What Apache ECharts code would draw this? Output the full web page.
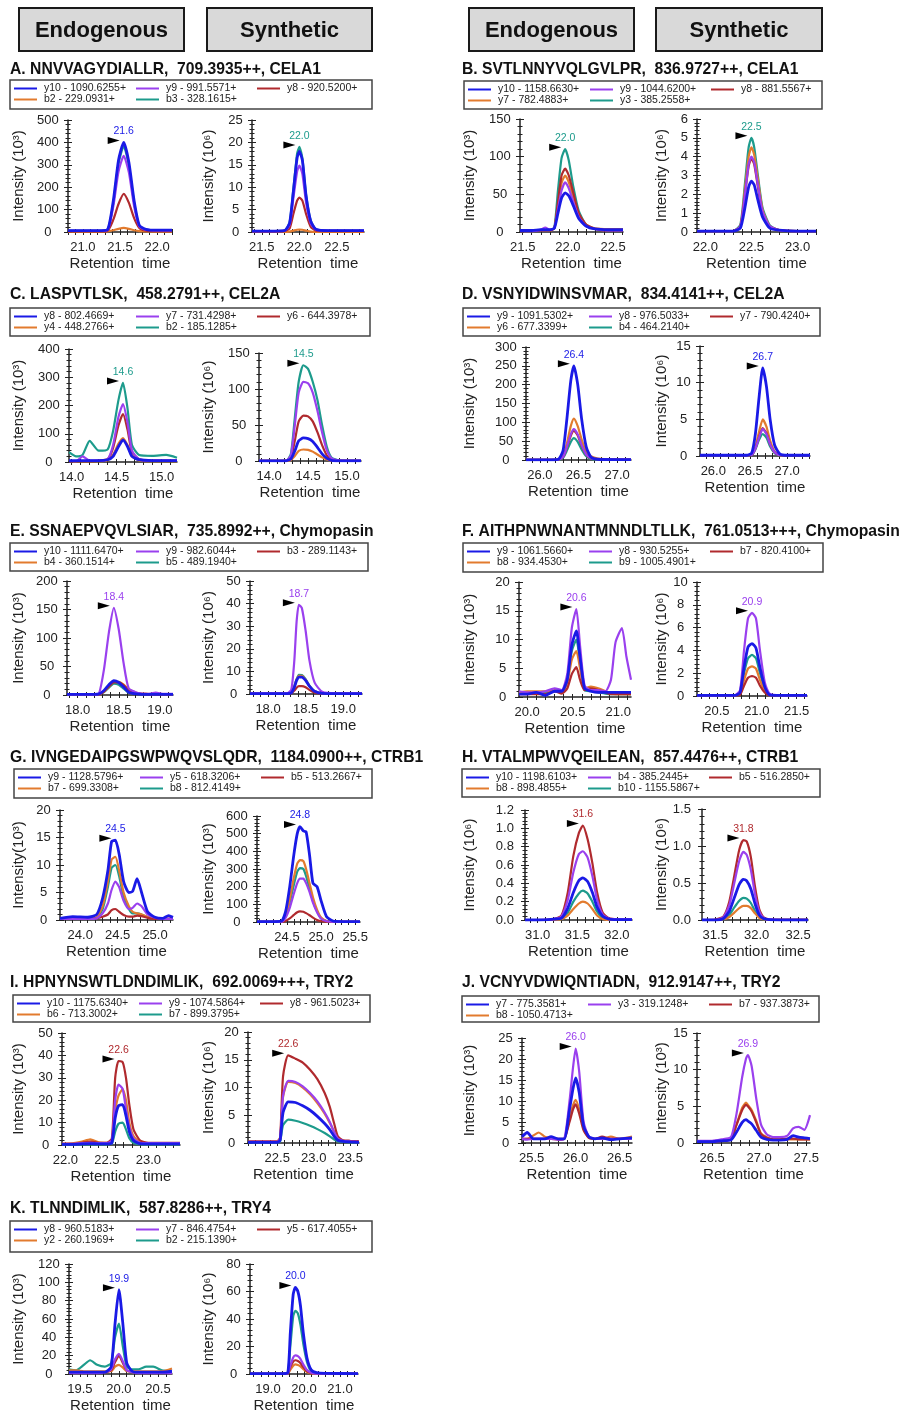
<!DOCTYPE html>
<html><head><meta charset="utf-8">
<script src="https://cdn.jsdelivr.net/npm/echarts@6/dist/echarts.min.js"></script>
<style>html,body{margin:0;padding:0;background:#fff}#c{width:906px;height:1416px}</style>
</head><body><div id="c"></div>
<script>
const colors = ['#1a1ae6','#9a40ee','#b02a2e','#e27b2e','#1d9b8c'];
const widths = [2.8, 2.2, 2.2, 2.2, 2.2];
const headerTexts = ['Endogenous','Synthetic','Endogenous','Synthetic'];

// ---------- A ----------
const A_title = 'A. NNVVAGYDIALLR,  709.3935++, CELA1';
const A_ions = ['y10 - 1090.6255+','y9 - 991.5571+','y8 - 920.5200+','b2 - 229.0931+','b3 - 328.1615+'];
const A_e_x = [20.8,21.0,21.2,21.33,21.41,21.48,21.55,21.62,21.69,21.76,21.85,22.0,22.2];
const A_e_y = [
 [6,6,6,10,140,320,400,310,140,30,12,8,8],
 [5,5,5,8,115,270,340,265,115,25,10,7,7],
 [3,3,3,5,55,125,170,130,62,18,6,4,4],
 [2,2,2,3,8,14,18,14,8,4,3,2,2],
 [5,5,5,9,130,305,385,295,130,28,10,7,7]];
const A_e_xr = [20.8,22.2], A_e_xl = [21.0,21.5,22.0], A_e_ya = [500,100], A_e_yn = 'Intensity (10³)', A_e_pk = ['21.6',0];
const A_s_x = [21.37,21.6,21.8,21.87,21.92,21.97,22.0,22.04,22.09,22.15,22.22,22.4,22.86];
const A_s_y = [
 [0.2,0.2,0.3,2,9,16.5,18,16,8,2.5,0.6,0.3,0.3],
 [0.2,0.2,0.3,1.6,7.5,13.5,14.8,13,6.5,2,0.5,0.3,0.3],
 [0.1,0.1,0.2,0.8,4,7,7.7,7,4,1.2,0.3,0.2,0.2],
 [0.05,0.05,0.05,0.1,0.3,0.5,0.55,0.5,0.3,0.1,0.05,0.05,0.05],
 [0.2,0.2,0.3,2.1,9.5,17.5,19,16.5,8.2,2.6,0.6,0.3,0.3]];
const A_s_xr = [21.37,22.86], A_s_xl = [21.5,22.0,22.5], A_s_ya = [25,5], A_s_yn = 'Intensity (10⁶)', A_s_pk = ['22.0',4];

// ---------- B ----------
const B_title = 'B. SVTLNNYVQLGVLPR,  836.9727++, CELA1';
const B_ions = ['y10 - 1158.6630+','y9 - 1044.6200+','y8 - 881.5567+','y7 - 782.4883+','y3 - 385.2558+'];
const B_e_x = [21.47,21.6,21.7,21.75,21.8,21.85,21.89,21.93,21.97,22.01,22.06,22.12,22.2,22.3,22.45,22.61];
const B_e_y = [
 [2,2,3,3,3,5,25,45,52,48,35,18,8,4,3,3],
 [1,1,3,6,3,5,30,55,66,58,40,20,8,4,2,2],
 [1,1,2,2,2,5,40,75,84,75,52,25,10,4,2,2],
 [2,2,2,2,2,5,35,65,75,66,46,24,10,5,4,4],
 [1,1,2,2,2,6,55,98,110,95,60,28,10,4,3,3]];
const B_e_xr = [21.47,22.61], B_e_xl = [21.5,22.0,22.5], B_e_ya = [150,50], B_e_yn = 'Intensity (10³)', B_e_pk = ['22.0',4];
const B_s_x = [21.91,22.1,22.3,22.38,22.43,22.47,22.5,22.53,22.57,22.62,22.7,22.8,23.0,23.2];
const B_s_y = [
 [0.05,0.05,0.05,0.2,1.3,2.4,2.7,2.5,1.7,0.8,0.2,0.1,0.05,0.05],
 [0.05,0.05,0.05,0.3,2.0,3.6,4.0,3.7,2.5,1.1,0.3,0.1,0.05,0.05],
 [0.05,0.05,0.05,0.3,2.0,3.5,3.9,3.6,2.4,1.0,0.3,0.1,0.05,0.05],
 [0.05,0.05,0.05,0.3,2.3,4.0,4.5,4.1,2.8,1.2,0.3,0.1,0.05,0.05],
 [0.05,0.05,0.05,0.4,2.6,4.5,5.0,4.5,3.0,1.3,0.35,0.1,0.05,0.05]];
const B_s_xr = [21.91,23.2], B_s_xl = [22.0,22.5,23.0], B_s_ya = [6,1], B_s_yn = 'Intensity (10⁶)', B_s_pk = ['22.5',4];

// ---------- C ----------
const C_title = 'C. LASPVTLSK,  458.2791++, CEL2A';
const C_ions = ['y8 - 802.4669+','y7 - 731.4298+','y6 - 644.3978+','y4 - 448.2766+','b2 - 185.1285+'];
const C_e_x = [13.97,14.05,14.12,14.2,14.3,14.4,14.46,14.52,14.57,14.62,14.67,14.75,14.9,15.05,15.17];
const C_e_y = [
 [5,5,5,5,5,8,20,55,78,55,20,8,5,5,5],
 [3,3,20,5,5,10,60,160,205,140,40,10,5,5,5],
 [3,3,3,3,5,10,50,130,170,115,35,10,5,5,5],
 [3,3,3,3,3,6,25,65,85,60,20,6,3,3,3],
 [35,20,25,75,40,45,110,220,280,190,60,25,22,25,15]];
const C_e_xr = [13.97,15.17], C_e_xl = [14.0,14.5,15.0], C_e_ya = [400,100], C_e_yn = 'Intensity (10³)', C_e_pk = ['14.6',4];
const C_s_x = [13.87,14.1,14.22,14.28,14.33,14.38,14.44,14.5,14.56,14.62,14.68,14.74,14.8,14.9,15.18];
const C_s_y = [
 [0.2,0.2,0.3,3,14,28,32,31,27,19,10,4,1,0.3,0.2],
 [0.3,0.3,0.5,8,50,95,110,108,95,70,40,15,4,1,0.5],
 [0.2,0.2,0.3,5,28,55,63,62,55,40,22,8,2,0.5,0.3],
 [0.1,0.1,0.2,1.5,7,14,16,15.5,13,9,5,2,0.5,0.2,0.1],
 [0.3,0.3,0.5,10,60,110,133,128,110,85,50,20,5,1,0.5]];
const C_s_xr = [13.87,15.18], C_s_xl = [14.0,14.5,15.0], C_s_ya = [150,50], C_s_yn = 'Intensity (10⁶)', C_s_pk = ['14.5',4];

// ---------- D ----------
const D_title = 'D. VSNYIDWINSVMAR,  834.4141++, CEL2A';
const D_ions = ['y9 - 1091.5302+','y8 - 976.5033+','y7 - 790.4240+','y6 - 677.3399+','b4 - 464.2140+'];
const D_e_x = [25.82,26.0,26.15,26.24,26.3,26.35,26.4,26.44,26.49,26.54,26.6,26.66,26.75,27.0,27.18];
const D_e_y = [
 [0.5,0.5,0.5,2,25,110,210,250,200,110,35,8,2,1,1],
 [0.5,0.5,0.5,1,8,35,68,82,68,40,14,5,2,1,1],
 [0.5,0.5,0.5,1,8,33,64,78,65,38,14,5,2,1,1],
 [0.5,0.5,0.5,1,10,45,90,110,90,55,22,10,4,1,1],
 [0.5,0.5,0.5,1,6,25,48,58,48,28,10,3,1,1,1]];
const D_e_xr = [25.82,27.18], D_e_xl = [26.0,26.5,27.0], D_e_ya = [300,50], D_e_yn = 'Intensity (10³)', D_e_pk = ['26.4',0];
const D_s_x = [25.82,26.2,26.45,26.52,26.57,26.62,26.67,26.72,26.77,26.83,26.9,27.0,27.31];
const D_s_y = [
 [0.1,0.1,0.1,0.4,3,8,12,9.5,5,1.5,0.3,0.1,0.1],
 [0.1,0.1,0.1,0.15,1,2.5,3.7,3,1.6,0.5,0.1,0.1,0.1],
 [0.1,0.1,0.1,0.15,1,2.6,3.8,3.1,1.6,0.5,0.1,0.1,0.1],
 [0.1,0.1,0.1,0.2,1.3,3.3,5,4,2.1,0.6,0.1,0.1,0.1],
 [0.1,0.1,0.1,0.1,0.9,2.2,3.0,2.5,1.3,0.4,0.1,0.1,0.1]];
const D_s_xr = [25.82,27.31], D_s_xl = [26.0,26.5,27.0], D_s_ya = [15,5], D_s_yn = 'Intensity (10⁶)', D_s_pk = ['26.7',0];

// ---------- E ----------
const E_title = 'E. SSNAEPVQVLSIAR,  735.8992++, Chymopasin';
const E_ions = ['y10 - 1111.6470+','y9 - 982.6044+','b3 - 289.1143+','b4 - 360.1514+','b5 - 489.1940+'];
const E_e_x = [17.87,18.0,18.2,18.26,18.32,18.38,18.44,18.5,18.56,18.62,18.72,18.85,18.95,19.05,19.16];
const E_e_y = [
 [1,1,1,2,8,18,25,22,14,5,2,1,1,1,1],
 [1,1,1,3,45,110,153,115,55,12,4,2,4,2,2],
 [1,1,1,1,6,15,22,22,17,9,3,1,1,1,1],
 [1,1,1,1,6,15,23,23,18,10,4,2,1,1,1],
 [1,1,1,1,5,13,20,18,11,4,2,1,1,1,1]];
const E_e_xr = [17.87,19.16], E_e_xl = [18.0,18.5,19.0], E_e_ya = [200,50], E_e_yn = 'Intensity (10³)', E_e_pk = ['18.4',1];
const E_s_x = [17.76,18.0,18.25,18.31,18.35,18.38,18.41,18.45,18.5,18.55,18.62,18.72,18.9,19.25];
const E_s_y = [
 [0.2,0.2,0.2,0.5,3,6,7.5,7.5,6,3.5,1.2,0.3,0.2,0.2],
 [0.3,0.3,0.3,2,15,32,39.5,38,28,15,5,1,0.3,0.3],
 [0.1,0.1,0.1,0.3,1.5,2.8,3.5,3.5,3,1.8,0.6,0.2,0.1,0.1],
 [0.2,0.2,0.2,0.5,3.2,6.3,8,8,6.3,3.6,1.2,0.3,0.2,0.2],
 [0.2,0.2,0.2,0.5,3.4,6.6,8.5,8.4,6.6,3.7,1.2,0.3,0.2,0.2]];
const E_s_xr = [17.76,19.25], E_s_xl = [18.0,18.5,19.0], E_s_ya = [50,10], E_s_yn = 'Intensity (10⁶)', E_s_pk = ['18.7',1];

// ---------- F ----------
const F_title = 'F. AITHPNWNANTMNNDLTLLK,  761.0513+++, Chymopasin';
const F_ions = ['y9 - 1061.5660+','y8 - 930.5255+','b7 - 820.4100+','b8 - 934.4530+','b9 - 1005.4901+'];
const F_e_x = [19.91,20.0,20.1,20.2,20.3,20.38,20.44,20.49,20.54,20.58,20.63,20.7,20.78,20.86,20.92,20.97,21.04,21.09,21.14];
const F_e_y = [
 [0.5,0.5,0.8,0.3,1,1,3,9,11.5,7,1.5,1,0.8,0.8,0.8,0.8,0.8,0.8,0.8],
 [1,0.8,0.8,1,1.5,1.2,4,12,15.3,9,2,1.2,1.2,1,3,9.5,12,7,3],
 [0.5,0.5,0.5,0.5,1,0.6,1.5,4,5.2,3,1.2,1.5,1.2,0.8,0.5,0.5,0.5,0.5,0.5],
 [0.8,1,1,1,1.2,0.8,2.5,6.5,8,5,1.5,1.8,1.5,1,0.6,0.5,0.5,0.5,0.5],
 [0.8,0.8,0.6,0.8,1,0.8,3,8,10,6,1.2,1,0.8,0.6,0.5,0.5,0.5,0.5,0.5]];
const F_e_xr = [19.91,21.14], F_e_xl = [20.0,20.5,21.0], F_e_ya = [20,5], F_e_yn = 'Intensity (10³)', F_e_pk = ['20.6',1];
const F_s_x = [20.25,20.5,20.72,20.79,20.84,20.89,20.94,20.99,21.04,21.1,21.16,21.3,21.63];
const F_s_y = [
 [0.05,0.05,0.05,0.3,2.5,4.3,4.6,4.2,2.5,0.8,0.1,0.05,0.05],
 [0.05,0.05,0.05,0.5,4,6.8,7.3,6.8,4,1.2,0.2,0.05,0.05],
 [0.05,0.05,0.05,0.1,0.9,1.6,1.75,1.6,0.9,0.3,0.05,0.05,0.05],
 [0.05,0.05,0.05,0.2,1.4,2.4,2.6,2.4,1.4,0.45,0.05,0.05,0.05],
 [0.05,0.05,0.05,0.25,2,3.3,3.6,3.3,2,0.6,0.05,0.05,0.05]];
const F_s_xr = [20.25,21.63], F_s_xl = [20.5,21.0,21.5], F_s_ya = [10,2], F_s_yn = 'Intensity (10⁶)', F_s_pk = ['20.9',1];

// ---------- G ----------
const G_title = 'G. IVNGEDAIPGSWPWQVSLQDR,  1184.0900++, CTRB1';
const G_ions = ['y9 - 1128.5796+','y5 - 618.3206+','b5 - 513.2667+','b7 - 699.3308+','b8 - 812.4149+'];
const G_e_x = [23.73,23.9,24.1,24.22,24.3,24.37,24.42,24.47,24.52,24.58,24.65,24.7,24.76,24.82,24.9,25.0,25.1,25.18,25.24];
const G_e_y = [
 [0.3,0.6,0.5,1,4,9,14.3,14.5,12,7,5,5.2,7.5,5,1.5,0.5,0.3,0.8,0.5],
 [0.2,0.2,0.2,0.3,1.2,3,5.5,7,6,3.5,2,2.2,3,2.5,1,0.4,0.2,0.2,0.2],
 [0.2,0.3,0.2,0.3,0.6,1,1.8,2,1.5,0.9,0.6,0.6,0.8,0.7,0.4,0.2,0.2,0.2,0.2],
 [0.2,0.3,0.3,0.5,2.5,7,11,11.5,9,5,2.5,1.5,1.2,1,0.6,0.3,0.2,0.2,0.2],
 [0.2,0.2,0.2,0.4,2,6,9.5,10,8,4.2,2,1.2,1.2,1,0.5,0.3,0.2,0.2,0.2]];
const G_e_xr = [23.73,25.24], G_e_xl = [24.0,24.5,25.0], G_e_ya = [20,5], G_e_yn = 'Intensity(10³)', G_e_pk = ['24.5',0];
const G_s_x = [24.06,24.3,24.42,24.48,24.54,24.6,24.65,24.69,24.74,24.78,24.83,24.88,24.94,25.0,25.08,25.2,25.57];
const G_s_y = [
 [2,2,5,60,200,380,500,540,515,510,380,220,200,120,30,3,2],
 [1,1,2,25,80,160,220,245,245,220,170,110,55,18,4,1,1],
 [0.5,0.5,1,6,20,40,55,60,58,50,38,25,12,4,1,0.5,0.5],
 [1,1,3,40,130,250,330,350,345,300,220,140,70,25,6,1,1],
 [1,1,3,35,110,210,285,305,300,260,190,120,60,20,5,1,1]];
const G_s_xr = [24.06,25.57], G_s_xl = [24.5,25.0,25.5], G_s_ya = [600,100], G_s_yn = 'Intensity (10³)', G_s_pk = ['24.8',0];

// ---------- H ----------
const H_title = 'H. VTALMPWVQEILEAN,  857.4476++, CTRB1';
const H_ions = ['y10 - 1198.6103+','b4 - 385.2445+','b5 - 516.2850+','b8 - 898.4855+','b10 - 1155.5867+'];
const H_e_x = [30.84,31.0,31.2,31.3,31.38,31.45,31.52,31.57,31.63,31.69,31.75,31.82,31.9,32.0,32.19];
const H_e_y = [
 [0,0,0.01,0.02,0.13,0.3,0.43,0.46,0.42,0.3,0.14,0.04,0.01,0.005,0.005],
 [0,0,0.01,0.04,0.22,0.52,0.72,0.75,0.68,0.48,0.22,0.06,0.015,0.01,0.01],
 [0,0,0.01,0.05,0.3,0.7,0.95,1.03,0.88,0.62,0.3,0.08,0.02,0.01,0.01],
 [0,0,0,0.01,0.05,0.12,0.18,0.2,0.18,0.12,0.05,0.01,0,0,0],
 [0,0,0,0.01,0.08,0.2,0.29,0.32,0.29,0.2,0.09,0.02,0.005,0,0]];
const H_e_xr = [30.84,32.19], H_e_xl = [31.0,31.5,32.0], H_e_ya = [1.2,0.2], H_e_yn = 'Intensity (10⁶)', H_e_pk = ['31.6',2];
const H_s_x = [31.34,31.5,31.6,31.67,31.73,31.79,31.84,31.88,31.93,31.98,32.03,32.08,32.15,32.3,32.62];
const H_s_y = [
 [0,0,0.02,0.12,0.3,0.48,0.55,0.53,0.42,0.22,0.07,0.02,0.005,0,0],
 [0,0,0.04,0.2,0.5,0.8,0.92,0.88,0.68,0.35,0.12,0.03,0.01,0,0],
 [0,0.005,0.05,0.25,0.6,0.95,1.08,1.06,0.85,0.45,0.15,0.04,0.01,0.005,0.005],
 [0,0,0.01,0.04,0.1,0.16,0.19,0.19,0.16,0.09,0.03,0.01,0,0,0],
 [0,0,0.01,0.07,0.17,0.26,0.3,0.29,0.23,0.12,0.04,0.01,0,0,0]];
const H_s_xr = [31.34,32.62], H_s_xl = [31.5,32.0,32.5], H_s_ya = [1.5,0.5], H_s_yn = 'Intensity (10⁶)', H_s_pk = ['31.8',2];

// ---------- I ----------
const I_title = 'I. HPNYNSWTLDNDIMLIK,  692.0069+++, TRY2';
const I_ions = ['y10 - 1175.6340+','y9 - 1074.5864+','y8 - 961.5023+','b6 - 713.3002+','b7 - 899.3795+'];
const I_e_x = [21.96,22.1,22.2,22.3,22.4,22.5,22.56,22.6,22.64,22.69,22.73,22.77,22.82,22.9,23.0,23.2,23.38];
const I_e_y = [
 [0.3,0.3,0.5,0.6,0.5,0.5,1,12,17.5,18,13,6,2,0.6,0.5,0.5,0.5],
 [0.5,0.5,0.8,1,0.8,0.8,2,20,27,25,16,8,3,1,0.8,0.8,0.8],
 [0.5,0.5,1,1.5,1,1,3,30,37.5,37,30,18,7,2,1,1,1],
 [0.5,0.8,1.5,2.5,1.2,1,2,15,22,25,20,10,4,1.2,0.8,0.8,0.8],
 [0.2,0.2,0.3,0.3,0.3,0.3,0.6,6,9.5,10,7,3,1,0.3,0.3,0.3,0.3]];
const I_e_xr = [21.96,23.38], I_e_xl = [22.0,22.5,23.0], I_e_ya = [50,10], I_e_yn = 'Intensity (10³)', I_e_pk = ['22.6',2];
const I_s_x = [22.1,22.3,22.5,22.54,22.58,22.65,22.75,22.85,22.95,23.05,23.15,23.22,23.28,23.33,23.4,23.5,23.62];
const I_s_y = [
 [0.1,0.1,0.1,0.5,5.5,7.4,7.3,6.7,5.9,4.8,3.5,2.4,1.2,0.5,0.3,0.2,0.1],
 [0.2,0.2,0.2,0.8,8.5,11.2,11,10.2,9,7.5,5.5,3.8,2,0.8,0.4,0.3,0.2],
 [0.3,0.3,0.3,1,12,15.8,15.2,14.5,13.2,11.5,9,6.5,3.5,1.2,0.5,0.4,0.3],
 [0.2,0.2,0.2,0.8,8.3,11,10.8,10,8.8,7.2,5.3,3.6,2,0.8,0.4,0.3,0.2],
 [0.1,0.1,0.1,0.3,3.2,4.2,4,3.6,3.1,2.5,1.8,1.2,0.6,0.3,0.2,0.1,0.1]];
const I_s_xr = [22.1,23.62], I_s_xl = [22.5,23.0,23.5], I_s_ya = [20,5], I_s_yn = 'Intensity (10⁶)', I_s_pk = ['22.6',2];

// ---------- J ----------
const J_title = 'J. VCNYVDWIQNTIADN,  912.9147++, TRY2';
const J_ions = ['y7 - 775.3581+','y3 - 319.1248+','b7 - 937.3873+','b8 - 1050.4713+'];
const J_e_x = [25.39,25.45,25.52,25.58,25.65,25.72,25.8,25.87,25.93,25.97,26.0,26.04,26.09,26.15,26.22,26.3,26.4,26.5,26.64];
const J_e_y = [
 [1.5,2.5,1,1,1,1.5,1,1,8,13,15.5,12,4,1.5,1,1.2,0.8,1,1.2],
 [1,0.8,1,1,1,1,0.8,1,10,18,22.5,17,5,1.5,1,1,1,1,1],
 [1,1,1,1,1,1,0.8,1,5,8,9.2,7,3,1.2,1,1.5,1,1,1],
 [1,1,1.8,2.5,1.5,1.2,1,1,6,9,10.3,8,3.5,1.2,1,1,1.5,1,1.5]];
const J_e_xr = [25.39,26.64], J_e_xl = [25.5,26.0,26.5], J_e_ya = [25,5], J_e_yn = 'Intensity (10³)', J_e_pk = ['26.0',1];
const J_s_x = [26.34,26.5,26.6,26.7,26.76,26.82,26.86,26.88,26.92,26.97,27.02,27.08,27.15,27.22,27.3,27.36,27.42,27.48,27.54];
const J_s_y = [
 [0.2,0.2,0.3,0.4,1.5,2.8,3.2,3,2.6,1.7,0.8,0.5,0.4,0.4,0.5,1,0.8,0.7,0.6],
 [0.3,0.3,0.5,0.8,4,9,11.5,12,10.5,6,2.5,1.2,0.8,0.8,1,2,2.2,1.8,3.8],
 [0.2,0.2,0.3,0.5,2.5,4.5,5.2,5,4.3,2.8,1.2,0.7,0.5,0.5,0.6,0.6,0.5,0.5,0.5],
 [0.2,0.2,0.3,0.5,2.5,4.8,5.5,5.2,4.5,3,1.3,0.8,0.5,0.5,0.5,0.5,0.5,0.5,0.5]];
const J_s_xr = [26.34,27.54], J_s_xl = [26.5,27.0,27.5], J_s_ya = [15,5], J_s_yn = 'Intensity (10³)', J_s_pk = ['26.9',1];

// ---------- K ----------
const K_title = 'K. TLNNDIMLIK,  587.8286++, TRY4';
const K_ions = ['y8 - 960.5183+','y7 - 846.4754+','y5 - 617.4055+','y2 - 260.1969+','b2 - 215.1390+'];
const K_e_x = [19.36,19.45,19.55,19.63,19.72,19.82,19.9,19.95,20.0,20.05,20.1,20.17,20.25,20.35,20.44,20.55,20.68];
const K_e_y = [
 [2,2,2,2,2,2,8,55,92,55,12,3,2,2,2,2,3],
 [1,1,1,1,1,2,5,16,22,14,4,2,1,1,1,1,1],
 [2,2,2,2,2,2,4,13,20,12,4,2,2,2,2,2,2],
 [4,4,3,3,3,3,3,8,10,7,3,3,3,3,3,3,6],
 [5,4,10,15,10,8,12,40,55,30,8,5,5,8,8,4,3]];
const K_e_xr = [19.36,20.68], K_e_xl = [19.5,20.0,20.5], K_e_ya = [120,20], K_e_yn = 'Intensity (10³)', K_e_pk = ['19.9',0];
const K_s_x = [18.5,19.0,19.4,19.55,19.62,19.7,19.76,19.83,19.9,19.98,20.08,20.2,20.35,20.6,21.5];
const K_s_y = [
 [0.3,0.3,0.3,1,30,58,63,60,50,30,12,3,1,0.5,0.3],
 [0.2,0.2,0.2,0.5,6,12,13.5,13,11,7,3,1,0.3,0.2,0.2],
 [0.2,0.2,0.2,0.4,5,9,10,9.5,8,5,2,0.6,0.3,0.2,0.2],
 [0.2,0.2,0.2,0.3,3,6,7,6.5,5.5,3.5,1.5,0.4,0.2,0.2,0.2],
 [0.3,0.3,0.3,1,20,42,46,44,36,22,9,2,0.6,0.4,0.3]];
const K_s_xr = [18.5,21.5], K_s_xl = [19.0,20.0,21.0], K_s_ya = [80,20], K_s_yn = 'Intensity (10⁶)', K_s_pk = ['20.0',0];

// ---------- layout (positions only) ----------
const headerBoxes = [[19,8,165,43],[207,8,165,43],[469,8,165,43],[656,8,166,43]];
// [titleX, titleY, boxX, boxY, boxW, boxH]
const panelLayout = [
 [10,70,10,80,362,29],[462,70,464,81,358,28],
 [10,295,10,308,360,28],[462,295,463,308,357,28],
 [10,532,10,543,358,28],[462,532,463,543,360,29],
 [10,758,14,769,358,29],[462,758,462,769,358,28],
 [10,983,13,995,357,27],[462,983,462,996,357,26],
 [10,1209,10,1221,362,31]];
// [left, top, right, bottom] of each plot area
const gridBoxes = [
 [68,120,172,232],[252,120,364,232],[520,119,623,232],[697,119,816,232],
 [69,349,177,462],[259,353,361,461],[526,347,631,460],[700,346,810,456],
 [67,581,173,695],[250,581,362,694],[519,582,631,697],[697,582,807,696],
 [60,810,173,920],[257,816,360,922],[525,810,632,920],[702,809,808,920],
 [62,1033,180,1145],[248,1032,359,1143],[522,1038,632,1143],[697,1033,810,1143],
 [69,1264,172,1374],[250,1264,358,1374]];
const nameCX = [18,208,469,661];
const legColX = [4,126,247], legRowY = [9,20];

const panels = [
 [A_title, A_ions, [A_e_x,A_e_y,A_e_xr,A_e_xl,A_e_ya,A_e_yn,A_e_pk], [A_s_x,A_s_y,A_s_xr,A_s_xl,A_s_ya,A_s_yn,A_s_pk]],
 [B_title, B_ions, [B_e_x,B_e_y,B_e_xr,B_e_xl,B_e_ya,B_e_yn,B_e_pk], [B_s_x,B_s_y,B_s_xr,B_s_xl,B_s_ya,B_s_yn,B_s_pk]],
 [C_title, C_ions, [C_e_x,C_e_y,C_e_xr,C_e_xl,C_e_ya,C_e_yn,C_e_pk], [C_s_x,C_s_y,C_s_xr,C_s_xl,C_s_ya,C_s_yn,C_s_pk]],
 [D_title, D_ions, [D_e_x,D_e_y,D_e_xr,D_e_xl,D_e_ya,D_e_yn,D_e_pk], [D_s_x,D_s_y,D_s_xr,D_s_xl,D_s_ya,D_s_yn,D_s_pk]],
 [E_title, E_ions, [E_e_x,E_e_y,E_e_xr,E_e_xl,E_e_ya,E_e_yn,E_e_pk], [E_s_x,E_s_y,E_s_xr,E_s_xl,E_s_ya,E_s_yn,E_s_pk]],
 [F_title, F_ions, [F_e_x,F_e_y,F_e_xr,F_e_xl,F_e_ya,F_e_yn,F_e_pk], [F_s_x,F_s_y,F_s_xr,F_s_xl,F_s_ya,F_s_yn,F_s_pk]],
 [G_title, G_ions, [G_e_x,G_e_y,G_e_xr,G_e_xl,G_e_ya,G_e_yn,G_e_pk], [G_s_x,G_s_y,G_s_xr,G_s_xl,G_s_ya,G_s_yn,G_s_pk]],
 [H_title, H_ions, [H_e_x,H_e_y,H_e_xr,H_e_xl,H_e_ya,H_e_yn,H_e_pk], [H_s_x,H_s_y,H_s_xr,H_s_xl,H_s_ya,H_s_yn,H_s_pk]],
 [I_title, I_ions, [I_e_x,I_e_y,I_e_xr,I_e_xl,I_e_ya,I_e_yn,I_e_pk], [I_s_x,I_s_y,I_s_xr,I_s_xl,I_s_ya,I_s_yn,I_s_pk]],
 [J_title, J_ions, [J_e_x,J_e_y,J_e_xr,J_e_xl,J_e_ya,J_e_yn,J_e_pk], [J_s_x,J_s_y,J_s_xr,J_s_xl,J_s_ya,J_s_yn,J_s_pk]],
 [K_title, K_ions, [K_e_x,K_e_y,K_e_xr,K_e_xl,K_e_ya,K_e_yn,K_e_pk], [K_s_x,K_s_y,K_s_xr,K_s_xl,K_s_ya,K_s_yn,K_s_pk]]
];

const FONT = '"Liberation Sans", Arial, Helvetica, sans-serif';
const AX = '#222';
const grid = [], xAxis = [], yAxis = [], series = [], legend = [], graphic = [];

headerBoxes.forEach((b, i) => {
  graphic.push({type:'rect', shape:{x:b[0], y:b[1], width:b[2], height:b[3]}, style:{fill:'#d9d9d9', stroke:'#1a1a1a', lineWidth:2}, z:1});
  graphic.push({type:'text', x:b[0]+b[2]/2, y:b[1]+b[3]/2+1, style:{text:headerTexts[i], fill:'#111', font:'bold 22px '+FONT, align:'center', verticalAlign:'middle'}, z:2});
});

panels.forEach((p, pi) => {
  const [title, ions, e, s] = p;
  const pl = panelLayout[pi];
  graphic.push({type:'text', x:pl[0], y:pl[1], style:{text:title, fill:'#111', font:'bold 15.7px '+FONT, verticalAlign:'middle'}, z:2});
  graphic.push({type:'rect', shape:{x:pl[2], y:pl[3], width:pl[4], height:pl[5]}, style:{fill:'#fff', stroke:'#444', lineWidth:1.5}, z:0});
  ions.forEach((name, i) => {
    const r = Math.floor(i/3), c = i%3;
    legend.push({left:pl[2]+legColX[c], top:pl[3]+legRowY[r]-6, padding:0, itemWidth:23, itemHeight:2, icon:'rect',
      selectedMode:false, data:[name], textStyle:{fontSize:10.5, color:'#222', fontFamily:FONT, padding:[0,0,0,2]}});
  });
  [e, s].forEach((sub, si) => {
    const k = pi*2 + si;
    const [xs, ys, xr, xl, ya, yn, pk] = sub;
    const gb = gridBoxes[k];
    grid.push({left:gb[0], top:gb[1], width:gb[2]-gb[0], height:gb[3]-gb[1]});
    const step = (xl[1]-xl[0])/5;
    const ticks = [];
    for (let n = Math.ceil(xr[0]/step - 1e-6); n*step <= xr[1] + 1e-6; n++) ticks.push(+(n*step).toFixed(3));
    const col = (pi%2)*2 + si;
    const dec = ya[1] < 1 ? 1 : 0;
    const maxLen = ya[0].toFixed(dec).length;
    xAxis.push({type:'value', gridIndex:k, position:'bottom', min:xr[0], max:xr[1],
      axisLine:{show:true, onZero:false, lineStyle:{color:AX, width:1.5}},
      axisTick:{show:true, customValues:ticks, length:3, lineStyle:{color:AX}},
      axisLabel:{customValues:xl, formatter:v=>v.toFixed(1), fontSize:13, color:AX, margin:9, fontFamily:FONT},
      splitLine:{show:false},
      name:'Retention  time', nameLocation:'middle', nameGap:24, nameTextStyle:{fontSize:15, color:AX, fontFamily:FONT}});
    xAxis.push({type:'value', gridIndex:k, position:'bottom', min:xr[0], max:xr[1],
      axisLine:{show:false}, axisLabel:{show:false}, splitLine:{show:false},
      axisTick:{show:true, inside:true, customValues:ticks, length:3, lineStyle:{color:AX}}});
    yAxis.push({type:'value', gridIndex:k, position:'left', min:0, max:ya[0], interval:ya[1],
      axisLine:{show:true, onZero:false, lineStyle:{color:AX, width:1.5}},
      axisTick:{show:true, length:4, lineStyle:{color:AX}},
      minorTick:{show:true, splitNumber:5, length:2.5, lineStyle:{color:AX}},
      axisLabel:{formatter:v=>v.toFixed(dec), fontSize:13, color:AX, align:'center', margin:9+maxLen*3.7, fontFamily:FONT},
      splitLine:{show:false}, minorSplitLine:{show:false},
      name:yn, nameLocation:'middle', nameRotate:90, nameGap:gb[0]-nameCX[col]-8,
      nameTextStyle:{fontSize:15, color:AX, fontFamily:FONT}});
    yAxis.push({type:'value', gridIndex:k, position:'left', min:0, max:ya[0], interval:ya[1],
      axisLine:{show:false}, axisLabel:{show:false}, splitLine:{show:false}, minorSplitLine:{show:false},
      axisTick:{show:true, inside:true, length:4, lineStyle:{color:AX}},
      minorTick:{show:true, splitNumber:5, length:2.5, lineStyle:{color:AX}}});
    for (let i = ys.length-1; i >= 0; i--) {
      const vals = ys[i];
      const ser = {type:'line', name:ions[i], xAxisIndex:2*k, yAxisIndex:2*k,
        data: xs.map((xv, j) => [xv, vals[j]]),
        showSymbol:false, symbol:'none', smooth:0.2, animation:false, silent:true,
        lineStyle:{color:colors[i], width:widths[i]}, itemStyle:{color:colors[i]}};
      if (i === pk[1]) {
        ser.markPoint = {silent:true, animation:false, z:20, data:[
          {type:'max', valueDim:'y', symbol:'triangle', symbolSize:[7,12], symbolRotate:-90, symbolOffset:[-10,-2],
           itemStyle:{color:'#000'}, label:{show:false}},
          {type:'max', valueDim:'y', symbol:'circle', symbolSize:1, itemStyle:{color:'rgba(0,0,0,0)'},
           label:{show:true, position:'top', distance:5, formatter:pk[0], color:colors[i], fontSize:10.5, fontFamily:FONT}}
        ]};
      }
      series.push(ser);
    }
  });
});

const chart = echarts.init(document.getElementById('c'), null, {renderer:'canvas'});
chart.setOption({
  animation:false,
  backgroundColor:'#fff',
  textStyle:{fontFamily:FONT},
  grid, xAxis, yAxis, series, legend, graphic
});
</script>
</body></html>
